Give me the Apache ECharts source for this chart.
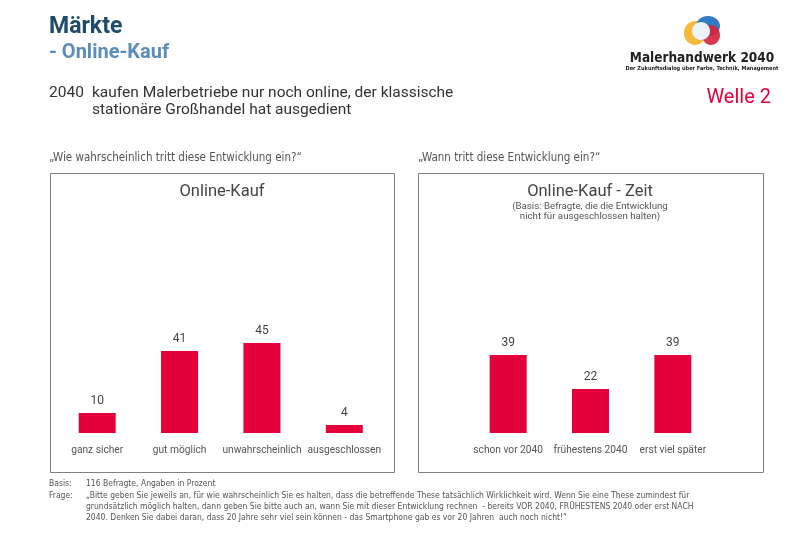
<!DOCTYPE html>
<html><head><meta charset="utf-8">
<script src="https://cdn.jsdelivr.net/npm/echarts@6/dist/echarts.min.js"></script>
<style>html,body{margin:0;padding:0;background:#fff}#c{width:800px;height:554px}</style>
</head><body><div id="c"></div>
<script>
const categoriesLikelihood = ['ganz sicher', 'gut möglich', 'unwahrscheinlich', 'ausgeschlossen'];
const valuesLikelihood = [10, 41, 45, 4];
const categoriesTime = ['schon vor 2040', 'frühestens 2040', 'erst viel später'];
const valuesTime = [39, 22, 39];

const RED = '#E4003A';
const FONT = 'Roboto, "Noto Sans", sans-serif';
const NARROW = '"Liberation Sans Narrow", "DejaVu Sans Condensed", Roboto, sans-serif';

const chart = echarts.init(document.getElementById('c'), null, {renderer: 'canvas'});

function txt(x, y, text, size, color, opts) {
  return Object.assign({
    type: 'text', x: x, y: y, silent: true,
    style: Object.assign({text: text, fontSize: size, fill: color, fontFamily: FONT, textVerticalAlign: 'middle'}, (opts && opts.style) || {})
  }, (opts && opts.el) || {});
}

const labelStyle = {show: true, position: 'top', distance: 6, color: '#444', fontSize: 12, fontFamily: FONT};
const catLabel = {color: '#555', fontSize: 10.2, margin: 12, fontFamily: FONT, interval: 0};

chart.setOption({
  animation: false,
  grid: [
    {left: 56, width: 329.5, top: 233, height: 200},
    {left: 467, width: 247, top: 233, height: 200}
  ],
  xAxis: [
    {type: 'category', gridIndex: 0, data: categoriesLikelihood, axisLine: {show: false}, axisTick: {show: false}, axisLabel: catLabel},
    {type: 'category', gridIndex: 1, data: categoriesTime, axisLine: {show: false}, axisTick: {show: false}, axisLabel: catLabel}
  ],
  yAxis: [
    {type: 'value', gridIndex: 0, min: 0, max: 100, show: false, splitLine: {show: false}},
    {type: 'value', gridIndex: 1, min: 0, max: 100, show: false, splitLine: {show: false}}
  ],
  series: [
    {type: 'bar', xAxisIndex: 0, yAxisIndex: 0, data: valuesLikelihood, barWidth: 37, itemStyle: {color: RED}, label: labelStyle},
    {type: 'bar', xAxisIndex: 1, yAxisIndex: 1, data: valuesTime, barWidth: 37, itemStyle: {color: RED}, label: labelStyle}
  ],
  graphic: [
    // boxes
    {type: 'rect', shape: {x: 50.5, y: 173.5, width: 344, height: 299}, style: {fill: 'none', stroke: '#808080', lineWidth: 1}, silent: true},
    {type: 'rect', shape: {x: 418.5, y: 173.5, width: 345, height: 299}, style: {fill: 'none', stroke: '#808080', lineWidth: 1}, silent: true},
    // headings
    txt(49, 27, 'Märkte', 23, '#1E4A6B', {style: {fontWeight: 'bold'}}),
    txt(49, 53, '- Online-Kauf', 20, '#5B8DB9', {style: {fontWeight: 'bold'}}),
    txt(49, 93, '2040', 15.5, '#333'),
    txt(92, 93, 'kaufen Malerbetriebe nur noch online, der klassische', 15.5, '#333'),
    txt(92, 110, 'stationäre Großhandel hat ausgedient', 15.5, '#333'),
    txt(771, 98, 'Welle 2', 20, RED, {style: {textAlign: 'right'}}),
    // questions
    txt(49, 158, '„Wie wahrscheinlich tritt diese Entwicklung ein?“', 11.5, '#555', {style: {fontFamily: NARROW}}),
    txt(418, 158, '„Wann tritt diese Entwicklung ein?“', 11.5, '#555', {style: {fontFamily: NARROW}}),
    // chart titles
    txt(222, 192, 'Online-Kauf', 16.5, '#444', {style: {textAlign: 'center'}}),
    txt(590, 192, 'Online-Kauf - Zeit', 16.5, '#444', {style: {textAlign: 'center'}}),
    txt(590, 206.5, '(Basis: Befragte, die die Entwicklung', 9.7, '#555', {style: {textAlign: 'center'}}),
    txt(590, 216.5, 'nicht für ausgeschlossen halten)', 9.7, '#555', {style: {textAlign: 'center'}}),
    // footer
    txt(49, 484, 'Basis:', 8.5, '#555', {style: {fontFamily: NARROW}}),
    txt(86, 484, '116 Befragte, Angaben in Prozent', 8.5, '#555', {style: {fontFamily: NARROW}}),
    txt(49, 496, 'Frage:', 8.5, '#555', {style: {fontFamily: NARROW}}),
    txt(86, 496, '„Bitte geben Sie jeweils an, für wie wahrscheinlich Sie es halten, dass die betreffende These tatsächlich Wirklichkeit wird. Wenn Sie eine These zumindest für', 8.5, '#555', {style: {fontFamily: NARROW}}),
    txt(86, 507, 'grundsätzlich möglich halten, dann geben Sie bitte auch an, wann Sie mit dieser Entwicklung rechnen  - bereits VOR 2040, FRÜHESTENS 2040 oder erst NACH', 8.5, '#555', {style: {fontFamily: NARROW}}),
    txt(86, 518, '2040. Denken Sie dabei daran, dass 20 Jahre sehr viel sein können - das Smartphone gab es vor 20 Jahren  auch noch nicht!“', 8.5, '#555', {style: {fontFamily: NARROW}}),
    // logo shapes
    {type: 'ellipse', shape: {cx: 695, cy: 33, rx: 11, ry: 12}, style: {fill: '#F6B93B'}, silent: true},
    {type: 'ellipse', shape: {cx: 708, cy: 26, rx: 12, ry: 10}, style: {fill: '#2F7BC4'}, silent: true},
    {type: 'ellipse', shape: {cx: 711, cy: 35, rx: 9, ry: 10}, style: {fill: '#D4213D', opacity: 0.9}, silent: true},
    {type: 'ellipse', shape: {cx: 701, cy: 31, rx: 9, ry: 9}, style: {fill: '#EEF3F7'}, silent: true},
    txt(702, 58, 'Malerhandwerk 2040', 13.5, '#222', {style: {textAlign: 'center', fontWeight: 'bold', fontFamily: NARROW}}),
    txt(702, 69, 'Der Zukunftsdialog über Farbe, Technik, Management', 5.6, '#222', {style: {textAlign: 'center', fontWeight: 'bold', fontFamily: NARROW}})
  ]
});
</script></body></html>
